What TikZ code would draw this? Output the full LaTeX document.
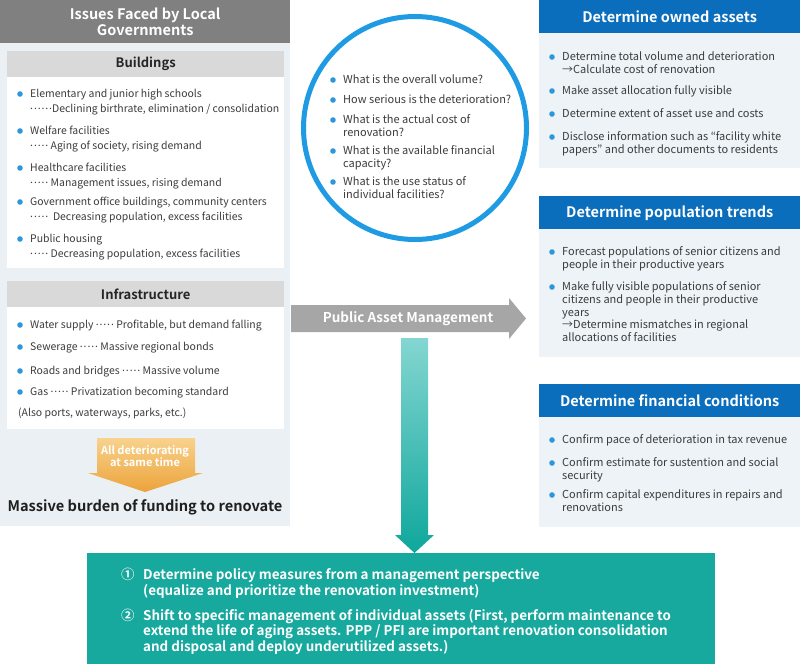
\documentclass[tikz,border=0pt]{standalone}
\usepackage{fontspec}
\setmainfont{Noto Sans CJK JP}[BoldFont={Noto Sans CJK JP Bold}]
\definecolor{hdrgray}{HTML}{808080}
\definecolor{subgray}{HTML}{D9D9D9}
\definecolor{leftbg}{HTML}{EAF0F4}
\definecolor{txt}{HTML}{3C3C3C}
\definecolor{bul}{HTML}{2E97DB}
\definecolor{circc}{HTML}{1E9BE3}
\definecolor{hblue}{HTML}{0A6EBD}
\definecolor{rbg}{HTML}{EDF3F7}
\definecolor{arrgray}{HTML}{A6A6A6}
\definecolor{orgtop}{HTML}{F8D28E}
\definecolor{orgbot}{HTML}{ECA33A}
\definecolor{tealtop}{HTML}{84D6D1}
\definecolor{tealbot}{HTML}{0FA79C}
\definecolor{boxteal}{HTML}{17A89E}
\newcommand\mylines[1]{\begin{tabular}[t]{@{}l@{}}#1\end{tabular}}
\newcommand\dts{\raisebox{0.28em}{.\kern0.9pt.\kern0.9pt.\kern0.9pt.\kern0.9pt.}}
\newcommand\sixdts{\raisebox{0.28em}{.\kern0.9pt.\kern0.9pt.\kern0.9pt.\kern0.9pt.\kern0.9pt.}}
\begin{document}
\begin{tikzpicture}[x=1pt,y=-1pt,
  itm/.style={anchor=base west, inner sep=0pt, font=\fontsize{10.45}{14.5}\selectfont, text=txt},
  ritm/.style={anchor=base west, inner sep=0pt, font=\fontsize{11}{12.8}\selectfont, text=txt},
  citm/.style={anchor=base west, inner sep=0pt, font=\fontsize{11}{12.5}\selectfont, text=txt},
  bitm/.style={anchor=base west, inner sep=0pt, font=\bfseries\fontsize{13.4}{15}\selectfont, text=white},
  subhead/.style={anchor=north west, inner sep=0pt, fill=subgray, minimum width=277pt, minimum height=26pt, font=\bfseries\fontsize{13}{15}\selectfont, text=black!85},
  rhead/.style={anchor=north west, inner sep=0pt, fill=hblue, minimum width=261pt, minimum height=33pt, font=\bfseries\fontsize{14.5}{16}\selectfont, text=white},
  rbody/.style={anchor=north west, inner sep=0pt, fill=rbg, minimum width=261pt},
  wbox/.style={anchor=north west, inner sep=0pt, fill=white, minimum width=277pt},
  dot/.style={fill=bul}
]
\useasboundingbox (0,0) rectangle (800,664);
\fill[white] (0,0) rectangle (800,664);

% ---------------- left panel
\node[anchor=north west, inner sep=0pt, fill=leftbg, minimum width=290pt, minimum height=526pt] (lbg) at (0,0) {};
\node[anchor=north west, inner sep=0pt, fill=hdrgray, minimum width=290pt, minimum height=43pt, align=center,
  font=\bfseries\fontsize{14.5}{16}\selectfont, text=white] (lhead) at (0,0) {Issues Faced by Local\\Governments};

\node[subhead] (bhead) at (7,51) {Buildings};
\node[wbox, minimum height=191pt] (bbox) at (7,77) {};
\fill[dot] (20,94) circle (2.8);
\node[itm] (b1) at (30,97.5) {\mylines{Elementary and junior high schools\\\sixdts Declining birthrate, elimination / consolidation}};
\fill[dot] (20,131) circle (2.8);
\node[itm] (b2) at (30,134.5) {\mylines{Welfare facilities\\\dts{} Aging of society, rising demand}};
\fill[dot] (20,168) circle (2.8);
\node[itm] (b3) at (30,171.5) {\mylines{Healthcare facilities\\\dts{} Management issues, rising demand}};
\fill[dot] (20,202) circle (2.8);
\node[itm] (b4) at (30,205.5) {\mylines{Government office buildings, community centers\\\dts{}\ \ Decreasing population, excess facilities}};
\fill[dot] (20,239) circle (2.8);
\node[itm] (b5) at (30,242.5) {\mylines{Public housing\\\dts{} Decreasing population, excess facilities}};

\node[subhead] (ihead) at (7,281) {Infrastructure};
\node[wbox, minimum height=122pt] (ibox) at (7,307) {};
\fill[dot] (20,325) circle (2.8);
\node[itm] (i1) at (30,328.5) {Water supply \dts{} Profitable, but demand falling};
\fill[dot] (20,347) circle (2.8);
\node[itm] (i2) at (30,350.5) {Sewerage \dts{} Massive regional bonds};
\fill[dot] (20,371) circle (2.8);
\node[itm] (i3) at (30,374.5) {Roads and bridges \dts{} Massive volume};
\fill[dot] (20,392) circle (2.8);
\node[itm] (i4) at (30,395.5) {Gas \dts{} Privatization becoming standard};
\node[itm] (i5) at (18,416.5) {(Also ports, waterways, parks, etc.)};

\shade[top color=orgtop, bottom color=orgbot] (97,438) -- (195,438) -- (195,473) -- (203,473) -- (145,492) -- (88,473) -- (97,473) -- cycle;
\node[inner sep=0pt, align=center, font=\bfseries\fontsize{11}{12}\selectfont, text=white] (alldet) at (145,456) {All deteriorating\\at same time};
\node[inner sep=0pt, font=\bfseries\fontsize{14.6}{17}\selectfont, text=black!88] (burden) at (145,507) {Massive burden of funding to renovate};

% ---------------- circle
\node[circle, draw=circc, line width=5pt, minimum size=223pt, inner sep=0pt] (circ) at (415,128) {};
\fill[dot] (333,80) circle (2.8);
\node[citm] (c1) at (343,83.5) {What is the overall volume?};
\fill[dot] (333,100) circle (2.8);
\node[citm] (c2) at (343,103.5) {How serious is the deterioration?};
\fill[dot] (333,120) circle (2.8);
\node[citm] (c3) at (343,123.5) {\mylines{What is the actual cost of\\renovation?}};
\fill[dot] (333,151) circle (2.8);
\node[citm] (c4) at (343,154.5) {\mylines{What is the available financial\\capacity?}};
\fill[dot] (333,182) circle (2.8);
\node[citm] (c5) at (343,185.5) {\mylines{What is the use status of\\individual facilities?}};

% ---------------- grey arrow
\fill[arrgray] (291,305) -- (509,305) -- (509,298) -- (526,318.5) -- (509,339) -- (509,332) -- (291,332) -- cycle;
\node[inner sep=0pt, font=\bfseries\fontsize{13.5}{15}\selectfont, text=white] (pam) at (408,318.5) {Public Asset Management};

% ---------------- teal arrow
\shade[top color=tealtop, bottom color=tealbot] (401,338) -- (428,338) -- (428,535) -- (434,535) -- (414.5,553) -- (395,535) -- (401,535) -- cycle;

% ---------------- bottom box
\node[anchor=north west, inner sep=0pt, fill=boxteal, minimum width=628pt, minimum height=111pt] (bottom) at (87,553) {};
\node[bitm] (n1) at (121,579.5) {①};
\node[bitm] (t1) at (143,579.5) {\mylines{Determine policy measures from a management perspective\\(equalize and prioritize the renovation investment)}};
\node[bitm] (n2) at (121,620.5) {②};
\node[bitm] (t2) at (143,620.5) {\mylines{Shift to specific management of individual assets (First, perform maintenance to\\extend the life of aging assets. PPP / PFI are important renovation consolidation\\and disposal and deploy underutilized assets.)}};

% ---------------- right panels
\node[rhead] (r1h) at (539,0) {Determine owned assets};
\node[rbody, minimum height=135pt] (r1b) at (539,33) {};
\fill[dot] (552,57) circle (2.8);
\node[ritm] (r11) at (562,60.5) {\mylines{Determine total volume and deterioration\\→Calculate cost of renovation}};
\fill[dot] (552,91) circle (2.8);
\node[ritm] (r12) at (562,94.5) {Make asset allocation fully visible};
\fill[dot] (552,114) circle (2.8);
\node[ritm] (r13) at (562,117.5) {Determine extent of asset use and costs};
\fill[dot] (552,137) circle (2.8);
\node[ritm] (r14) at (562,140.5) {\mylines{Disclose information such as “facility white\\papers” and other documents to residents}};

\node[rhead] (r2h) at (539,196) {Determine population trends};
\node[rbody, minimum height=128pt] (r2b) at (539,229) {};
\fill[dot] (552,252) circle (2.8);
\node[ritm] (r21) at (562,255.5) {\mylines{Forecast populations of senior citizens and\\people in their productive years}};
\fill[dot] (552,287) circle (2.8);
\node[ritm] (r22) at (562,290.5) {\mylines{Make fully visible populations of senior\\citizens and people in their productive\\years\\→Determine mismatches in regional\\allocations of facilities}};

\node[rhead] (r3h) at (539,384) {Determine financial conditions};
\node[rbody, minimum height=110pt] (r3b) at (539,417) {};
\fill[dot] (552,440) circle (2.8);
\node[ritm] (r31) at (562,443.5) {Confirm pace of deterioration in tax revenue};
\fill[dot] (552,463) circle (2.8);
\node[ritm] (r32) at (562,466.5) {\mylines{Confirm estimate for sustention and social\\security}};
\fill[dot] (552,495) circle (2.8);
\node[ritm] (r33) at (562,498.5) {\mylines{Confirm capital expenditures in repairs and\\renovations}};
\end{tikzpicture}
\end{document}
